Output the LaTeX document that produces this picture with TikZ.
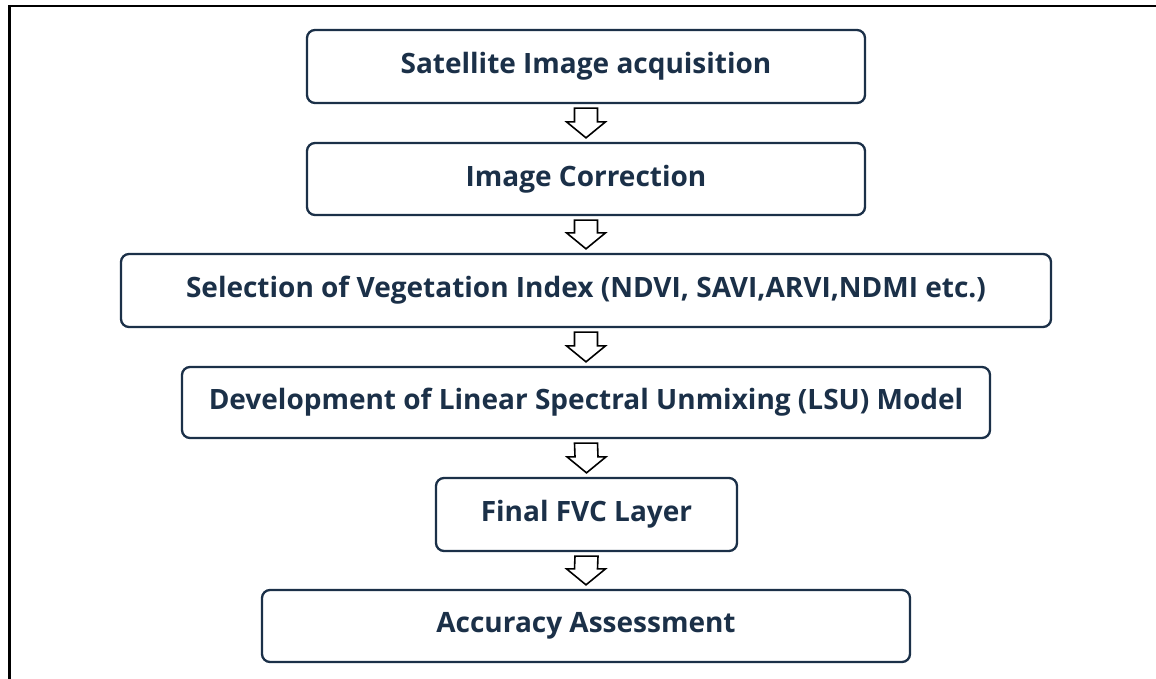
\documentclass[tikz,border=0pt]{standalone}
\usepackage{fontspec}
\setmainfont{Open Sans}
\usetikzlibrary{calc}
\definecolor{navy}{HTML}{1B3048}
\tikzset{
  stepbox/.style={draw=navy, line width=2.3pt, rounded corners=8pt, fill=white,
    text=navy, font=\bfseries\fontsize{28}{32}\selectfont, inner sep=0pt, anchor=center},
  hollowarrow/.style={draw=black, line width=1.6pt, fill=white, line join=miter},
  frameline/.style={draw=black, line width=2.6pt}
}
\newcommand\flowarrow[2]{%
  \draw[hollowarrow] ($(#1.south)+(-11.5,4)$) -- ($(#1.south)+(11.5,4)$)
    -- ($(#2.north)+(11.5,-20)$) -- ($(#2.north)+(19.5,-20)$)
    -- ($(#2.north)+(0,-4)$) -- ($(#2.north)+(-19.5,-20)$)
    -- ($(#2.north)+(-11.5,-20)$) -- cycle;}
\begin{document}
\begin{tikzpicture}[x=1pt,y=-1pt]
\useasboundingbox (0,0) rectangle (1156,679);
\coordinate (fbl) at (9.5,679);
\coordinate (ftl) at (9.5,6);
\coordinate (ftr) at (1156,6);
\draw[frameline] (fbl) -- (ftl) -- (ftr);
\node[stepbox, minimum width=558pt, minimum height=73pt] (s1) at (586,66.5) {Satellite Image acquisition};
\node[stepbox, minimum width=558pt, minimum height=72pt] (s2) at (586,179) {Image Correction};
\node[stepbox, minimum width=930pt, minimum height=73pt] (s3) at (586,290.5) {Selection of Vegetation Index (NDVI, SAVI,ARVI,NDMI etc.)};
\node[stepbox, minimum width=808pt, minimum height=71pt] (s4) at (586,402.5) {Development of Linear Spectral Unmixing (LSU) Model};
\node[stepbox, minimum width=301pt, minimum height=73pt] (s5) at (586.5,514.5) {Final FVC Layer};
\node[stepbox, minimum width=648pt, minimum height=72pt] (s6) at (586,626) {Accuracy Assessment};
\flowarrow{s1}{s2}
\flowarrow{s2}{s3}
\flowarrow{s3}{s4}
\flowarrow{s4}{s5}
\flowarrow{s5}{s6}
\end{tikzpicture}
\end{document}
